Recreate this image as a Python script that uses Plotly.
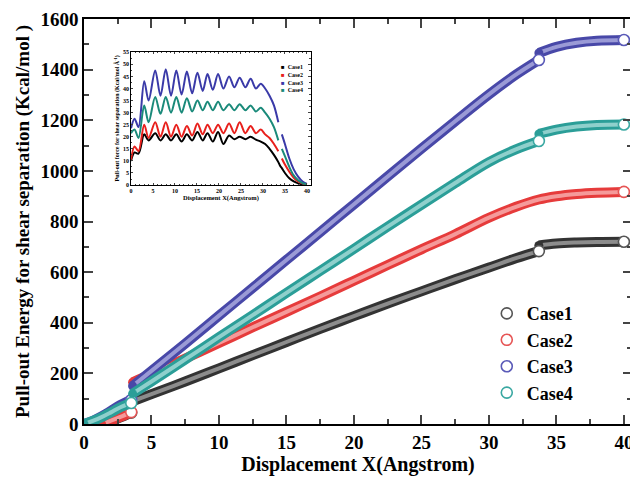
import plotly.graph_objects as go

# ---------------- main chart data (Pull-out energy, Kcal/mol) ----------------
cases = ["Case1", "Case2", "Case3", "Case4"]

seg1_x = [0, 0.7, 1.3, 2.0, 2.7, 3.5]
case1_seg1 = [None, None, 0, 12, 26, 45]
case2_seg1 = [None, None, 0, 13, 28, 47]
case3_seg1 = [0, 14, 30, 52, 75, 95]
case4_seg1 = [0, 13, 27, 46, 66, 83]

seg2_x = [3.6, 5, 7.5, 10, 12.5, 15, 17.5, 20, 22.5, 25, 27.5, 30, 32, 33.7]
case1_seg2 = [90, 118, 168, 220, 272, 324, 376, 426, 476, 524, 572, 618, 655, 683]
case2_seg2 = [165, 198, 259, 320, 382, 443, 504, 566, 628, 690, 750, 815, 858, 887]
case3_seg2 = [150, 210, 318, 428, 538, 648, 758, 868, 978, 1088, 1196, 1302, 1380, 1438]
case4_seg2 = [120, 168, 255, 343, 430, 518, 605, 692, 780, 866, 952, 1035, 1085, 1118]

seg3_x = [33.7, 35, 36.5, 38, 40]
case1_seg3 = [705, 713, 717, 719, 720]
case2_seg3 = [887, 900, 909, 914, 917]
case3_seg3 = [1466, 1490, 1506, 1514, 1517]
case4_seg3 = [1146, 1163, 1175, 1181, 1183]

# ---------------- inset data (Pull-out force, Kcal/mol/A) ----------------
inset_x = [0, 0.8, 1.7, 3.0, 4.0, 5.5, 6.7, 7.9, 9.1, 10.3, 11.5, 12.7, 13.9, 15.1,
           16.3, 17.4, 18.6, 19.8, 21.0, 22.3, 23.5, 24.7, 26.0, 27.2, 28.4, 29.5,
           30.5, 31.5, 32.5, 33.5, 33.9, 34.3, 35, 36, 37, 38, 39, 40]
force_case1 = [10, 13.5, 13, 21, 18.5, 21.5, 18.5, 21, 18.5, 21, 18, 21, 18.5, 22,
               18.5, 21.5, 18, 22, 17, 20.5, 19, 20, 19, 20, 18.8, 18,
               17, 15, 12.5, 9.5, 8, 7, 5, 2.8, 1.5, 0.7, 0.3, 0.1]
force_case2 = [10.5, 16, 14, 25, 19.5, 26, 20, 26, 20, 25, 20, 24.5, 20.5, 25.5,
               21, 25, 21.5, 25, 21.5, 25.5, 21.5, 26, 21.5, 24.5, 21.5, 23,
               21, 19.5, 17, 14, None, 11, 8.5, 5.5, 3, 1.5, 0.6, 0.2]
force_case3 = [23.5, 27.5, 24, 43, 35, 47.5, 37, 48, 37, 47.5, 37.5, 47, 38, 46.5,
               39, 46, 39.5, 46, 40, 45, 40.5, 44.5, 40.5, 44, 40, 42,
               40, 37, 33, 26, None, 21, 17, 11, 6.5, 3.5, 1.5, 0.5]
force_case4 = [21.5, 23, 19.5, 33, 26, 36.5, 29.5, 36.5, 30, 36.5, 30, 36, 30.5, 35,
               31, 34.5, 31, 34.5, 31, 33.5, 31, 33.5, 31, 33, 30.5, 32,
               30, 27.5, 24, 18.5, None, 15, 12, 7.5, 4, 2, 0.8, 0.3]

# ---------------- styles ----------------
outer_colors = ["#333333", "#e63b3b", "#4848a8", "#2b9e98"]
inner_colors = ["#8c8c8c", "#f59a9a", "#9a9ad6", "#8fd0cc"]
legend_colors = ["#555555", "#e65555", "#5a5ab8", "#3aa8a2"]
inset_colors = ["#000000", "#e8201c", "#3a3aa8", "#1a8a7a"]
jump_at_end = [True, False, True, True]

SERIF = "Liberation Serif"

seg1_all = [case1_seg1, case2_seg1, case3_seg1, case4_seg1]
seg2_all = [case1_seg2, case2_seg2, case3_seg2, case4_seg2]
seg3_all = [case1_seg3, case2_seg3, case3_seg3, case4_seg3]
force_all = [force_case1, force_case2, force_case3, force_case4]

fig = go.Figure()

for i, name in enumerate(cases):
    segs = [(seg1_x, seg1_all[i])]
    if jump_at_end[i]:
        segs.append((seg2_x, seg2_all[i]))
        segs.append((seg3_x, seg3_all[i]))
    else:
        segs.append((seg2_x + seg3_x[1:], seg2_all[i] + seg3_all[i][1:]))
    ends_x, ends_y, starts_x, starts_y = [], [], [], []
    for sx, sy in segs:
        fig.add_trace(go.Scatter(x=sx, y=sy, mode="lines", showlegend=False,
                                 hoverinfo="skip",
                                 line=dict(color=outer_colors[i], width=10, shape="spline")))
        fig.add_trace(go.Scatter(x=sx, y=sy, mode="lines", showlegend=False,
                                 hoverinfo="skip",
                                 line=dict(color=inner_colors[i], width=4, shape="spline")))
        first = next(k for k, v in enumerate(sy) if v is not None)
        starts_x.append(sx[first]); starts_y.append(sy[first])
        ends_x.append(sx[-1]); ends_y.append(sy[-1])
    fig.add_trace(go.Scatter(x=starts_x, y=starts_y, mode="markers", showlegend=False,
                             hoverinfo="skip",
                             marker=dict(size=9, color=outer_colors[i], line=dict(width=0))))
    fig.add_trace(go.Scatter(x=ends_x, y=ends_y, mode="markers", name=name,
                             marker=dict(symbol="circle", size=11, color="white",
                                         line=dict(color=legend_colors[i], width=1.6))))

# inset traces
for i, name in enumerate(cases):
    fig.add_trace(go.Scatter(x=inset_x, y=force_all[i], mode="lines", showlegend=False,
                             xaxis="x2", yaxis="y2", name=name,
                             line=dict(color=inset_colors[i], width=2, shape="spline",
                                       smoothing=0.9)))

# inset legend as text
inset_legend = "<br>".join(
    f'<span style="color:{inset_colors[i]}">■</span>  {cases[i]}' for i in range(4))

axis_common = dict(showline=True, linecolor="black", mirror="allticks", showgrid=False,
                   zeroline=False, ticks="inside", automargin=False)

# the page body has an 8px margin, so the figure is sized/offset to compensate
fig.update_layout(
    width=630, height=469,
    margin=dict(l=76, r=6, t=11, b=53),
    paper_bgcolor="white", plot_bgcolor="white",
    font=dict(family=SERIF, color="black"),
    xaxis=dict(range=[0, 40.6], tick0=0, dtick=5, ticklen=9, tickwidth=1.5, linewidth=1.5,
               minor=dict(dtick=2.5, ticks="inside", ticklen=5, tickwidth=1.5),
               tickfont=dict(family=SERIF, size=19, weight="bold"),
               title=dict(text="Displacement X(Angstrom)", standoff=2,
                          font=dict(family=SERIF, size=20, weight="bold")),
               **axis_common),
    yaxis=dict(range=[0, 1600], tick0=0, dtick=200, ticklen=9, tickwidth=1.5, linewidth=1.5,
               minor=dict(dtick=100, ticks="inside", ticklen=5, tickwidth=1.5),
               tickfont=dict(family=SERIF, size=19, weight="bold"),
               title=dict(text="Pull-out Energy for shear separation (Kcal/mol )", standoff=6,
                          font=dict(family=SERIF, size=19, weight="bold")),
               **axis_common),
    xaxis2=dict(domain=[0.0858, 0.414], anchor="y2", range=[0, 40.9], tick0=0, dtick=5,
                ticklen=2.5, tickwidth=0.8, linewidth=0.8,
                minor=dict(dtick=1, ticks="inside", ticklen=1.5, tickwidth=0.6),
                tickfont=dict(family=SERIF, size=6, weight="bold"),
                title=dict(text="Displacement X(Angstrom)", standoff=2,
                           font=dict(family=SERIF, size=6.5, weight="bold")),
                **axis_common),
    yaxis2=dict(domain=[0.590, 0.919], anchor="x2", range=[0, 55.2], tick0=0, dtick=5,
                ticklen=2.5, tickwidth=0.8, linewidth=0.8,
                minor=dict(dtick=2.5, ticks="inside", ticklen=1.5, tickwidth=0.6),
                tickfont=dict(family=SERIF, size=6, weight="bold"),
                title=dict(text="Pull-out force for shear separation (Kcal/mol Å<sup>-1</sup>)",
                           standoff=2, font=dict(family=SERIF, size=6, weight="bold")),
                **axis_common),
    legend=dict(x=0.735, y=0.318, xanchor="left", yanchor="top", bgcolor="rgba(0,0,0,0)",
                font=dict(family=SERIF, size=18, weight="bold"), tracegroupgap=0),
    annotations=[dict(xref="paper", yref="paper", x=0.355, y=0.895, xanchor="left",
                      yanchor="top", align="left", showarrow=False, text=inset_legend,
                      font=dict(family=SERIF, size=6, color="black", weight="bold"))],
)

fig.write_html("out.html")
